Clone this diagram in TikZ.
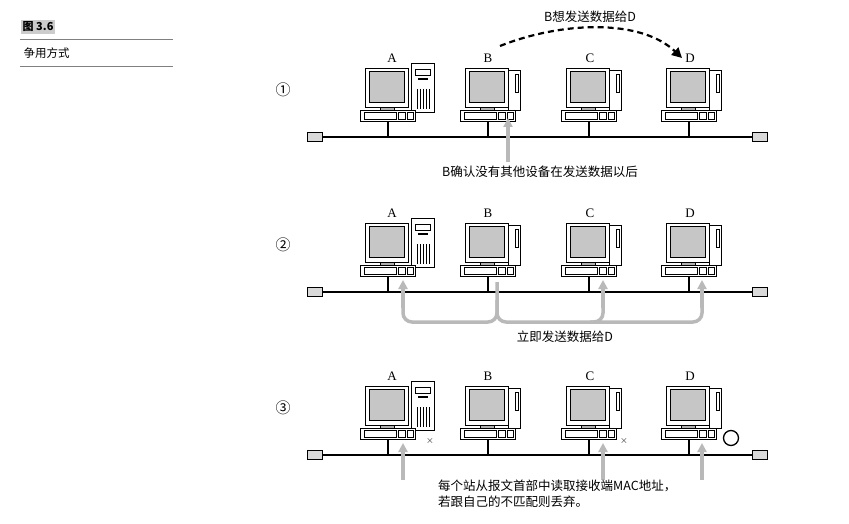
\documentclass[tikz,border=0pt]{standalone}
\usepackage{fontspec}
\setmainfont{Liberation Serif}
\newfontfamily\cjk{Noto Sans CJK SC}
\usetikzlibrary{arrows.meta}
\tikzset{
  lbl/.style={font=\fontsize{13}{15}\selectfont},
  cjkl/.style={font=\cjk\fontsize{12.5}{16}\selectfont},
  gar/.style={draw=gray!55,line width=3.5pt,-{Triangle[length=9pt,width=9pt]}},
  term/.style={draw,line width=1.5pt,fill=gray!30,minimum width=15pt,minimum height=9pt,inner sep=0pt},
}
\newcommand{\pc}[3]{% x, bus y, tower type
  \begin{scope}[shift={(#1,#2)},line width=0.9pt]
  \draw[line width=2.2pt] (0,0) -- (0,-16);
  \ifnum#3=1
   \draw[fill=white] (23,-74) rectangle (46,-25);
   \draw (27,-68) rectangle (42,-62); \fill (30,-59) rectangle (40,-57);
   \foreach \i in {29,32,35,38,41} \draw (\i,-48) -- (\i,-28);
  \else
   \draw[fill=white] (20,-67) rectangle (32,-27);
   \draw (27,-63) rectangle (30,-45);
  \fi
  \draw[fill=white] (-23,-69) rectangle (20,-30);
  \draw[fill=gray!45] (-19,-66) rectangle (16,-35);
  \draw[fill=gray!60] (-8,-30) rectangle (6,-27);
  \draw[fill=white] (-28,-27) rectangle (27,-16);
  \draw (-24,-25) rectangle (8,-18); \draw (10,-25) rectangle (17,-18); \draw (19,-25) rectangle (25,-18);
  \end{scope}}
\begin{document}
\begin{tikzpicture}[x=1pt,y=-1pt]
\useasboundingbox[fill=white] (0,0) rectangle (849,524);
% header
\node[fill=gray!40,inner sep=1.5pt,anchor=west,font=\cjk\bfseries\fontsize{11}{12}\selectfont] (hd) at (21,27) {图 3.6};
\draw[gray,line width=1pt] (20,40) -- (173,40);
\node[anchor=west,font=\cjk\fontsize{11.5}{13}\selectfont] (tt) at (20,53) {争用方式};
\draw[gray,line width=1pt] (20,67) -- (173,67);
% panels
\foreach \y/\n in {137/①,292/②,455/③}{
  \node[font=\cjk\fontsize{15}{17}\selectfont] at (283,\y-47) {\n};
  \node[term] (tl) at (315,\y) {};
  \node[term] (tr) at (760,\y) {};
  \draw[line width=2.2pt] (tl) -- (tr);
  \pc{388}{\y}{1}\pc{488}{\y}{0}\pc{589}{\y}{0}\pc{689}{\y}{0}
  \foreach \x/\t in {392/A,488/B,590/C,690/D} \node[lbl] at (\x,\y-79) {\t};
}
% panel 1
\draw[dashed,dash pattern=on 6pt off 4pt,line width=2.2pt,-{Triangle[length=10pt,width=10pt]}] (500,46) .. controls (560,22) and (640,18) .. (682,58);
\node[cjkl] (m1) at (590,17) {B想发送数据给D};
\draw[gar] (508,162) -- (508,118);
\node[cjkl] (m2) at (540,172) {B确认没有其他设备在发送数据以后};
% panel 2
\begin{scope}[gray!55,line width=3.5pt,rounded corners=9pt]
\draw (497,282) -- (497,322) -- (403,322) -- (403,305);
\draw (497,300) -- (497,322) -- (702,322) -- (702,305);
\draw (590,322) -- (603,322) -- (603,305);
\end{scope}
\draw[gar] (403,308) -- (403,280);
\draw[gar] (603,308) -- (603,280);
\draw[gar] (702,308) -- (702,280);
\node[cjkl] (m3) at (565,337) {立即发送数据给D};
% panel 3
\foreach \x in {403,603,702} \draw[gar] (\x,480) -- (\x,443);
\node[font=\fontsize{10}{10}\selectfont] at (430,441) {$\times$};
\node[font=\fontsize{10}{10}\selectfont] at (624,441) {$\times$};
\draw[line width=1.3pt] (731,438) circle (7.5);
\node[cjkl,anchor=north west,align=left,inner sep=0pt] (m4) at (438,480) {每个站从报文首部中读取接收端MAC地址，\\若跟自己的不匹配则丢弃。};
\end{tikzpicture}
\end{document}
